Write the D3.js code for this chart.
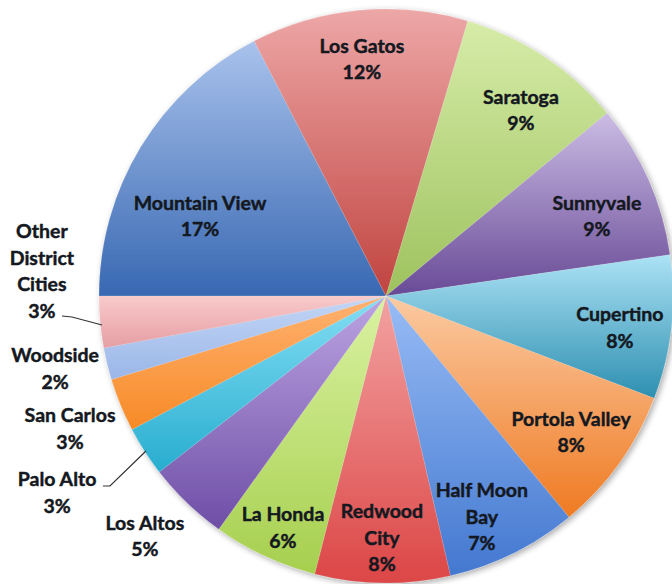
<!DOCTYPE html>
<html>
<head>
<meta charset="utf-8">
<script src="https://cdn.jsdelivr.net/npm/d3@7"></script>
<style>
  body { margin: 0; background: #fff; }
  .lbl { font-family: Lato, "Open Sans", sans-serif; font-weight: bold; font-size: 19.5px;
    fill: #141820; stroke: #141820; stroke-width: 0.45px; }
</style>
</head>
<body>
<script>
// district city shares (percent), clockwise from 9 o'clock
var cities = ["Mountain View", "Los Gatos", "Saratoga", "Sunnyvale", "Cupertino", "Portola Valley",
  "Half Moon Bay", "Redwood City", "La Honda", "Los Altos", "Palo Alto", "San Carlos", "Woodside",
  "Other District Cities"];
var shares = [17.4, 12.2, 9.4, 8.7, 8.1, 8.2, 7.4, 7.6, 5.9, 4.6, 2.8, 3.0, 1.8, 2.9];
// label lines for each slice (name split as shown)
var labelLines = [["Mountain View"], ["Los Gatos"], ["Saratoga"], ["Sunnyvale"], ["Cupertino"],
  ["Portola Valley"], ["Half Moon", "Bay"], ["Redwood", "City"], ["La Honda"], ["Los Altos"],
  ["Palo Alto"], ["San Carlos"], ["Woodside"], ["Other", "District", "Cities"]];
// gradient colours top -> bottom
var topColors = ["#a9c2ec", "#eda7a7", "#d6eca8", "#cbbce4", "#ace2f5", "#fbcaa2", "#98bcf5",
  "#f3a2a2", "#daf2a2", "#bca4e2", "#84def4", "#ffb272", "#c4d6f5", "#f9caca"];
var bottomColors = ["#3868b2", "#c0443f", "#9ec25e", "#684a96", "#2d8fb0", "#ef7a22", "#4378d0",
  "#dc4646", "#a6cf4e", "#6e4ea6", "#27adcf", "#f78a26", "#9ab6e8", "#e59ea4"];

var width = 672, height = 584;
var cx = 386, cy = 296, radius = 287;

var svg = d3.select("body").append("svg")
  .attr("width", width)
  .attr("height", height);

var defs = svg.append("defs");

// soft shadow
var filt = defs.append("filter").attr("id", "shadow")
  .attr("x", "-10%").attr("y", "-10%").attr("width", "120%").attr("height", "120%");
filt.append("feGaussianBlur").attr("in", "SourceAlpha").attr("stdDeviation", 3);
filt.append("feOffset").attr("dx", 2).attr("dy", 2).attr("result", "b");
filt.append("feComponentTransfer").append("feFuncA").attr("type", "linear").attr("slope", 0.35);
var merge = filt.append("feMerge");
merge.append("feMergeNode");
merge.append("feMergeNode").attr("in", "SourceGraphic");

cities.forEach(function(c, i) {
  var g = defs.append("linearGradient").attr("id", "grad" + i)
    .attr("x1", 0).attr("y1", 0).attr("x2", 0).attr("y2", 1);
  g.append("stop").attr("offset", "0%").attr("stop-color", topColors[i]);
  g.append("stop").attr("offset", "100%").attr("stop-color", bottomColors[i]);
});

var pie = d3.pie()
  .sort(null)
  .value(function(d) { return d; })
  .startAngle(-Math.PI / 2)
  .endAngle(Math.PI * 1.5);

var arc = d3.arc().innerRadius(0).outerRadius(radius);

var arcs = pie(shares);

var chart = svg.append("g")
  .attr("transform", "translate(" + cx + "," + cy + ")");

chart.append("g").attr("filter", "url(#shadow)")
  .selectAll("path")
  .data(arcs)
  .enter()
  .append("path")
  .attr("d", arc)
  .attr("fill", function(d, i) { return "url(#grad" + i + ")"; })
  .attr("stroke", "rgba(255,255,255,0.25)")
  .attr("stroke-width", 0.5);

// label block centres, as fractions of the radius from the pie centre
var labelOffset = [[-0.648, -0.279], [-0.084, -0.826], [0.470, -0.648], [0.735, -0.279],
  [0.815, 0.111], [0.645, 0.474], [0.334, 0.770], [-0.014, 0.843], [-0.359, 0.808],
  [-0.840, 0.836], [-1.146, 0.686], [-1.101, 0.463], [-1.153, 0.254], [-1.199, -0.087]];

var percentFmt = function(v) { return Math.round(v) + "%"; };

arcs.forEach(function(d, i) {
  var x = cx + labelOffset[i][0] * radius;
  var y = cy + labelOffset[i][1] * radius;
  var lines = labelLines[i].concat([percentFmt(shares[i])]);
  var lh = 26.5;
  var y0 = y - (lines.length - 1) * lh / 2;
  var t = svg.append("text").attr("class", "lbl")
    .attr("text-anchor", "middle");
  lines.forEach(function(s, k) {
    t.append("tspan").attr("x", x).attr("y", y0 + k * lh).attr("dy", "0.35em").text(s);
  });
});

// leader lines for the two outside labels with connectors
var leader = d3.line().curve(d3.curveLinear);
svg.append("path")
  .attr("d", leader([[62, 316], [72, 317], [102, 325]]))
  .attr("fill", "none").attr("stroke", "#333").attr("stroke-width", 1.2);
svg.append("path")
  .attr("d", leader([[103, 486], [110, 486], [146, 451]]))
  .attr("fill", "none").attr("stroke", "#333").attr("stroke-width", 1.2);
</script>
</body>
</html>
